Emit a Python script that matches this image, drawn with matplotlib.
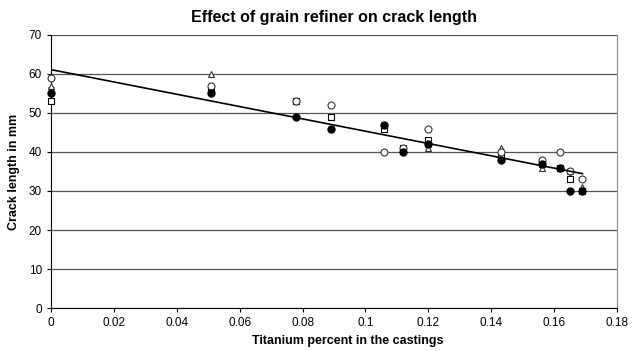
import numpy as np
import matplotlib
matplotlib.use("Agg")
import matplotlib.pyplot as plt

plt.rcParams["font.family"] = ["Liberation Sans", "DejaVu Sans"]

# titanium content of the castings (%)
ti = [0.0, 0.051, 0.078, 0.089, 0.106, 0.112, 0.120, 0.143, 0.156, 0.162, 0.165, 0.169]

# crack length (mm) per test series
filled_circle = [55, 55, 49, 46, 47, 40, 42, 38, 37, 36, 30, 30]
open_circle   = [59, 57, 53, 52, 40, 41, 46, 40, 38, 40, 35, 33]
triangle      = [57, 60, 53, 49, 46, 41, 41, 41, 36, 36, 35, 31]
square        = [53, 56, 53, 49, 46, 41, 43, 39, 37, 36, 33, 30]
cross         = [56, 56, 53, 49, 47, 41, 42, 39, 37, 36, 34, 30]

fig = plt.figure(figsize=(6.32, 3.51), dpi=100)
ax = fig.add_axes([0.0807, 0.1225, 0.8956, 0.7778])

kw = dict(clip_on=False, zorder=3, markeredgewidth=0.8)
ax.plot(ti, cross, "x", color="#333333", markersize=4, **kw)
ax.plot(ti, triangle, "^", mfc="white", mec="#333333", markersize=5, **kw)
ax.plot(ti, square, "s", mfc="white", mec="black", markersize=5, **kw)
ax.plot(ti, open_circle, "o", mfc="white", mec="#333333", markersize=5, **kw)
ax.plot(ti, filled_circle, "o", color="black", markersize=5, clip_on=False, zorder=4)

# linear trend over all series
all_x = np.tile(ti, 5)
all_y = np.concatenate([filled_circle, open_circle, triangle, square, cross])
slope, icpt = np.polyfit(all_x, all_y, 1)
xs = np.array([min(ti), max(ti)])
ax.plot(xs, icpt + slope * xs, color="black", linewidth=1.2, zorder=5)

ax.set_xlim(0, 0.18)
ax.set_ylim(0, 70)
ax.set_xticks(np.arange(0, 0.181, 0.02))
ax.set_xticklabels(["0", "0.02", "0.04", "0.06", "0.08", "0.1", "0.12", "0.14", "0.16", "0.18"])
ax.set_yticks(range(0, 71, 10))
ax.yaxis.grid(True, color="#555555", linewidth=0.9)
ax.set_axisbelow(True)
ax.tick_params(labelsize=8.5, length=3, direction="out", width=0.8)

ax.spines["left"].set_color("black")
ax.spines["bottom"].set_color("black")
ax.spines["top"].set_visible(False)
ax.spines["right"].set_color("#888888")

ax.set_title("Effect of grain refiner on crack length", fontsize=11.5, fontweight="bold", pad=9)
ax.set_xlabel("Titanium percent in the castings", fontsize=9, fontweight="bold")
ax.xaxis.set_label_coords(0.525, -0.1)
ax.set_ylabel("Crack length in mm", fontsize=9, fontweight="bold", labelpad=6)

fig.savefig("out.png", dpi=100)
